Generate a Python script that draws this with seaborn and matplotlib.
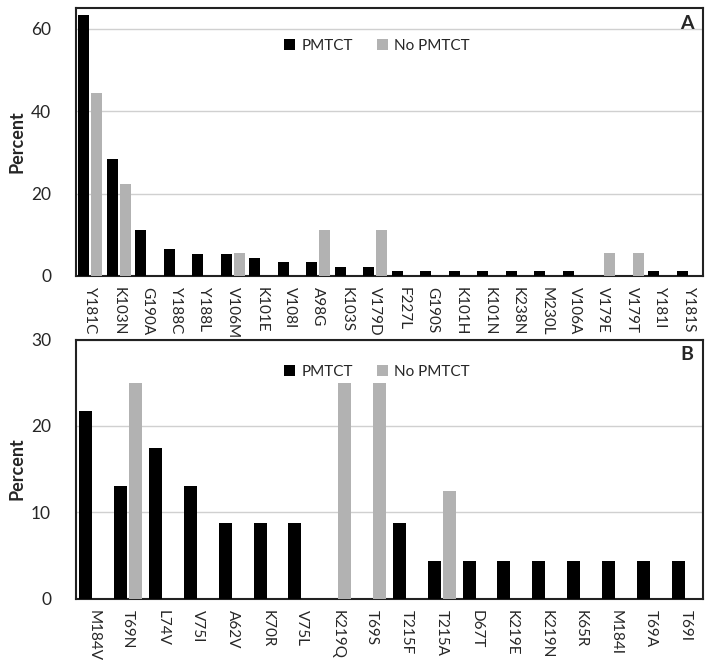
import matplotlib
matplotlib.use("Agg")
import matplotlib.pyplot as plt
import seaborn as sns
import pandas as pd

# Panel A (NNRTI mutations)
mut_a = ["Y181C", "K103N", "G190A", "Y188C", "Y188L", "V106M", "K101E", "V108I",
         "A98G", "K103S", "V179D", "F227L", "G190S", "K101H", "K101N", "K238N",
         "M230L", "V106A", "V179E", "V179T", "Y181I", "Y181S"]
pmtct_a = [63.4, 28.3, 11.1, 6.5, 5.4, 5.4, 4.3, 3.3, 3.3, 2.2, 2.2, 1.1, 1.1, 1.1,
           1.1, 1.1, 1.1, 1.1, 0, 0, 1.1, 1.1]
nopmtct_a = [44.4, 22.2, 0, 0, 0, 5.6, 0, 0, 11.1, 0, 11.1, 0, 0, 0,
             0, 0, 0, 0, 5.6, 5.6, 0, 0]

# Panel B (NRTI mutations)
mut_b = ["M184V", "T69N", "L74V", "V75I", "A62V", "K70R", "V75L", "K219Q", "T69S",
         "T215F", "T215A", "D67T", "K219E", "K219N", "K65R", "M184I", "T69A", "T69I"]
pmtct_b = [21.7, 13.0, 17.4, 13.0, 8.7, 8.7, 8.7, 0, 0, 8.7, 4.3, 4.3, 4.3, 4.3,
           4.3, 4.3, 4.3, 4.3]
nopmtct_b = [0, 25.0, 0, 0, 0, 0, 0, 25.0, 25.0, 0, 12.5, 0, 0, 0, 0, 0, 0, 0]

groups = ["PMTCT", "No PMTCT"]
colors = {"PMTCT": "#000000", "No PMTCT": "#b2b2b2"}

sns.set_style("white")
plt.rcParams["font.family"] = ["Lato", "DejaVu Sans"]


def long_df(muts, a, b):
    return pd.DataFrame({
        "Mutation": muts * 2,
        "Percent": list(a) + list(b),
        "Group": [groups[0]] * len(muts) + [groups[1]] * len(muts),
    })


fig = plt.figure(figsize=(7.11, 6.68), dpi=100)
axB = fig.add_axes([76 / 711, 1 - 598.5 / 668, 627 / 711, 259 / 668])
axA = fig.add_axes([76 / 711, 1 - 276 / 668, 627 / 711, 268 / 668])

specs = [
    (axA, long_df(mut_a, pmtct_a, nopmtct_a), mut_a, 65, [0, 20, 40, 60], "A", 0.9, 0.86),
    (axB, long_df(mut_b, pmtct_b, nopmtct_b), mut_b, 30, [0, 10, 20, 30], "B", 0.86, 0.875),
]

for ax, df, order, ymax, yt, lab, w, ly in specs:
    ax.set_facecolor("none")
    sns.barplot(data=df, x="Mutation", y="Percent", hue="Group", order=order,
                hue_order=groups, palette=colors, width=w, gap=0.13,
                saturation=1, linewidth=0, ax=ax, zorder=3)
    ax.set_ylim(0, ymax)
    ax.set_yticks(yt)
    ax.set_xlim(-0.5, len(order) - 0.5)
    ax.grid(axis="y", color="#d0d0d0", linewidth=1, zorder=0)
    ax.set_axisbelow(True)
    ax.set_xlabel("")
    ax.set_ylabel("Percent", fontsize=13, fontweight="bold", labelpad=4)
    ax.tick_params(axis="y", labelsize=12.5, length=0, pad=18)
    ax.tick_params(axis="x", length=0, pad=8)
    ax.set_xticks(range(len(order)))
    ax.set_xticklabels(order, rotation=-90, va="top", ha="center",
                       rotation_mode="default", fontsize=11)
    for s in ax.spines.values():
        s.set_color("#222222")
        s.set_linewidth(1.5)
    ax.text(0.985, 0.975, lab, transform=ax.transAxes, ha="right", va="top",
            fontsize=14, fontweight="bold")
    h, l = ax.get_legend_handles_labels()
    ax.legend(h, l, loc="center", bbox_to_anchor=(0.48, ly), ncol=2,
              frameon=False, fontsize=11, handlelength=0.7, handleheight=0.7,
              handletextpad=0.4, columnspacing=1.6)

fig.savefig("out.png", dpi=100)
